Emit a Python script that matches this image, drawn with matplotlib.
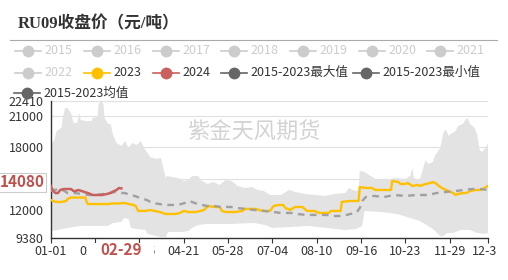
import matplotlib
matplotlib.use('Agg')
import matplotlib.pyplot as plt
import matplotlib.transforms as mtransforms
from matplotlib.lines import Line2D
from matplotlib.patches import Rectangle
from matplotlib.transforms import Bbox, TransformedBbox, offset_copy
import numpy as np

plt.rcParams['font.family'] = ['Noto Sans CJK SC', 'DejaVu Sans']

# day of year (0 = 01-01, leap-year calendar, 365 = 12-31)
max_days = [0, 3, 5, 9, 10, 12, 14, 17, 19, 22, 24, 25, 29, 34, 35, 39, 40, 42, 44, 45, 48, 50, 52, 55,
            59, 62, 65, 68, 72, 75, 79, 81, 83, 88, 92, 96, 97, 101, 106, 111, 115, 118, 123, 126, 131,
            136, 141, 146, 151, 156, 162, 168, 173, 178, 183, 192, 199, 204, 212, 221, 229, 237, 246,
            249, 252, 257, 258, 262, 267, 271, 279, 288, 296, 300, 302, 303, 308, 313, 315, 319, 321,
            323, 325, 328, 330, 332, 334, 338, 340, 344, 346, 348, 350, 354, 356, 358, 360, 363, 365]
max_vals = [18220, 18690, 19550, 19840, 20790, 21740, 21740, 21270, 20310, 20310, 21270, 20600, 20500,
            20500, 20790, 20890, 22120, 22410, 22120, 20790, 20220, 20220, 19170, 18410, 18120, 18600,
            17930, 18410, 18220, 18600, 17740, 17450, 17070, 16880, 16980, 15070, 15260, 15170, 15070,
            14790, 14880, 15260, 15260, 14790, 14500, 14690, 14400, 14880, 14790, 14310, 14120, 14210,
            13930, 13830, 13450, 13450, 13930, 13740, 13550, 13450, 13360, 13550, 13640, 14120, 13930,
            13830, 15740, 15640, 15260, 14980, 14880, 15070, 14980, 15260, 16030, 15070, 14880, 16790,
            16410, 16600, 17260, 17550, 17930, 19460, 19650, 19080, 19270, 19550, 20030, 20220, 20600,
            20790, 20220, 19840, 19170, 17740, 17550, 17930, 18400]

min_days = [0, 6, 14, 25, 48, 52, 59, 61, 65, 67, 72, 79, 81, 88, 92, 96, 98, 111, 115, 118, 123, 130,
            150, 170, 179, 185, 200, 215, 230, 245, 255, 260, 262, 275, 283, 292, 300, 308, 315, 320,
            325, 328, 331, 336, 342, 350, 356, 362, 365]
min_vals = [10020, 10120, 10310, 10500, 10500, 10780, 10880, 11260, 11170, 10310, 10210, 10120, 9740,
            9540, 9450, 9450, 9930, 9930, 10020, 10310, 10590, 10690, 10690, 10780, 10590, 10310, 10400,
            10500, 10310, 10120, 10210, 10500, 11930, 11830, 11740, 11550, 11260, 10970, 10500, 10120,
            9540, 9540, 9830, 9830, 10120, 10120, 9830, 9740, 9830]

mean_days = [0, 3, 7, 10, 14, 20, 26, 32, 38, 44, 48, 54, 59, 62, 66, 70, 75, 80, 85, 91, 96, 100, 106,
             112, 116, 120, 126, 131, 137, 142, 150, 156, 163, 170, 178, 186, 192, 200, 206, 213, 222,
             230, 236, 244, 250, 255, 258, 260, 263, 270, 278, 287, 296, 305, 315, 322, 330, 338, 345,
             352, 358, 365]
mean_vals = [13830, 13930, 14020, 13930, 13640, 13640, 13550, 13450, 13450, 13550, 13640, 13740, 13640,
             13640, 13450, 13360, 13160, 12980, 12690, 12590, 12500, 12500, 12500, 12690, 12880, 12690,
             12500, 12400, 12400, 12310, 12310, 12210, 12120, 12020, 11930, 11830, 11740, 11740, 11640,
             11550, 11550, 11550, 11450, 11450, 11640, 11740, 12210, 12880, 13260, 13360, 13260, 13450,
             13360, 13450, 13450, 13640, 13740, 13830, 13930, 14020, 14020, 13930]

y2023_days = [0, 4, 9, 13, 14, 17, 29, 30, 31, 41, 48, 51, 56, 62, 65, 69, 71, 73, 79, 83, 87, 91, 96,
              100, 104, 108, 111, 115, 121, 125, 128, 131, 137, 141, 143, 146, 154, 160, 162, 171, 177,
              183, 186, 190, 194, 196, 200, 204, 210, 214, 220, 224, 232, 234, 242, 243, 250, 257, 258,
              263, 268, 271, 279, 284, 285, 290, 292, 296, 298, 302, 306, 308, 313, 317, 319, 321, 324,
              328, 332, 336, 338, 340, 344, 347, 350, 355, 359, 362, 365]
y2023_vals = [12980, 12790, 12790, 12880, 13070, 13210, 13210, 12790, 12590, 12590, 12590, 12640, 12640,
              12690, 12590, 12500, 12400, 11930, 11930, 12020, 11930, 11830, 11640, 11640, 11640, 11740,
              11930, 11830, 11830, 11930, 12020, 12400, 12310, 12310, 11930, 11830, 11830, 11930, 12120,
              12120, 11930, 11930, 12400, 12500, 12500, 12210, 12020, 12310, 12310, 11930, 11930, 11740,
              11740, 11930, 11930, 12790, 12880, 12880, 14210, 14120, 14120, 13930, 13930, 13930, 14790,
              14690, 14500, 14500, 14600, 14310, 14410, 14310, 14500, 14600, 14690, 14600, 14310, 14020,
              13830, 13640, 13450, 13550, 13640, 13640, 13830, 13930, 13930, 14120, 14310]

y2024_days = [0, 2, 4, 6, 8, 11, 14, 17, 19, 21, 23, 26, 28, 31, 35, 39, 43, 47, 50, 53, 55, 57, 59]
y2024_vals = [14310, 13830, 13640, 13640, 13930, 14020, 14020, 14020, 13830, 13830, 13930, 13830, 13740,
              13640, 13450, 13450, 13450, 13550, 13640, 13830, 13930, 14120, 14080]

tick_days = [0, 37, 74, 111, 148, 185, 222, 259, 296, 333, 365]
tick_labels = ['01-01', '02-07', '03-15', '04-21', '05-28', '07-04', '08-10', '09-16', '10-23', '11-29', '12-31']
y_ticks = [9380, 12000, 15000, 18000, 21000, 22410]

legend_names = ['2015', '2016', '2017', '2018', '2019', '2020', '2021',
                '2022', '2023', '2024', '2015-2023最大值', '2015-2023最小值', '2015-2023均值']

W, H = 508, 280
def fx(px):
    return px / W
def fy(py):
    return 1 - py / H

fig = plt.figure(figsize=(W / 100, H / 100), dpi=100)
ax = fig.add_axes([fx(50.7), fy(237.7), (488 - 50.7) / W, (237.7 - 101) / H])

# band between yearly max and min
ax.fill(np.concatenate([max_days, min_days[::-1]]), np.concatenate([max_vals, min_vals[::-1]]),
        color='#E3E3E3', lw=0, zorder=1)
ax.plot(y2023_days, y2023_vals, color='#FFC000', lw=1.7, zorder=3)
ax.plot(mean_days, mean_vals, color='#A0A0A0', lw=1.7, ls=(0, (2.8, 2.3)), zorder=4)
ax.plot(y2024_days, y2024_vals, color='#C9605D', lw=1.8, zorder=5)

ax.set_xlim(0, 365)
ax.set_ylim(9380, 22410)
ax.set_yticks(y_ticks)
ax.set_xticks(tick_days)
ax.set_xticklabels(tick_labels)
for y in y_ticks[1:]:
    ax.axhline(y, color='#E0E0E0', lw=0.8, zorder=0.5)
for s in ['top', 'right']:
    ax.spines[s].set_visible(False)
for s in ['left', 'bottom']:
    ax.spines[s].set_color('#333333')
    ax.spines[s].set_linewidth(1.0)
ax.tick_params(axis='y', length=0, pad=5, labelsize=9, labelcolor='#333333')
ax.tick_params(axis='x', length=3.5, width=0.8, color='#333333', pad=2, labelsize=9, labelcolor='#333333')

# last label cut at the chart edge like the reference
clip = TransformedBbox(Bbox.from_extents(0, 0, fx(497), 1), fig.transFigure)
lbl = ax.get_xticklabels()[-1]
lbl.set_clip_box(clip)
lbl.set_clip_on(True)

# watermark
ax.text(fx(253.5), fy(132), '紫金天风期货', transform=fig.transFigure, fontsize=16,
        color='#D3D3D3', ha='center', va='center', zorder=2)

# axis pointer labels
ax.add_patch(Rectangle((fx(87), fy(258)), (154 - 87) / W, 15 / H, transform=fig.transFigure,
                       facecolor='white', edgecolor='none', clip_on=False, zorder=6))
xlab_tr = mtransforms.blended_transform_factory(ax.transData, fig.transFigure)
ax.text(59, fy(250), '02-29', transform=xlab_tr, fontsize=11, fontweight='bold', color='#C0504D',
        ha='center', va='center', zorder=7, clip_on=False)
ylab_tr = offset_copy(mtransforms.blended_transform_factory(fig.transFigure, ax.transData),
                      fig=fig, y=4.3, units='points')
ax.text(fx(22), 14080, '14080', transform=ylab_tr, fontsize=11, fontweight='bold', color='#C0504D',
        ha='center', va='center', zorder=7, clip_on=False,
        bbox=dict(boxstyle='square,pad=0.12', fc='white', ec='#CCCCCC', lw=0.8))

# title
fig.text(fx(18), fy(24), 'RU09收盘价（元/吨）', fontsize=12, fontweight='bold', color='#333333',
         family=['Liberation Serif', 'Noto Sans CJK SC'], va='center')
fig.add_artist(Line2D([fx(10), fx(497)], [fy(40), fy(40)], color='#AAAAAA', lw=0.8))

# legend
leg_color = ['#CCCCCC'] * 8 + ['#FFC000', '#C9605D', '#666666', '#666666', '#666666']
leg_x = [28, 97, 166, 234, 303, 372, 440, 28, 97, 166, 234, 366, 27]
leg_y = [50.5] * 7 + [72.5] * 5 + [93]
for i, name in enumerate(legend_names):
    m, y, c = leg_x[i], leg_y[i], leg_color[i]
    fig.add_artist(Line2D([fx(m - 13), fx(m + 13)], [fy(y), fy(y)], color=c, lw=1.2, zorder=8))
    fig.add_artist(Line2D([fx(m)], [fy(y)], marker='o', ms=7.5, color=c, lw=0, zorder=9))
    tc = '#CCCCCC' if i < 8 else '#333333'
    fig.text(fx(m + 16), fy(y), name, fontsize=9, color=tc, va='center', zorder=9)

fig.savefig('out.png', dpi=100)
